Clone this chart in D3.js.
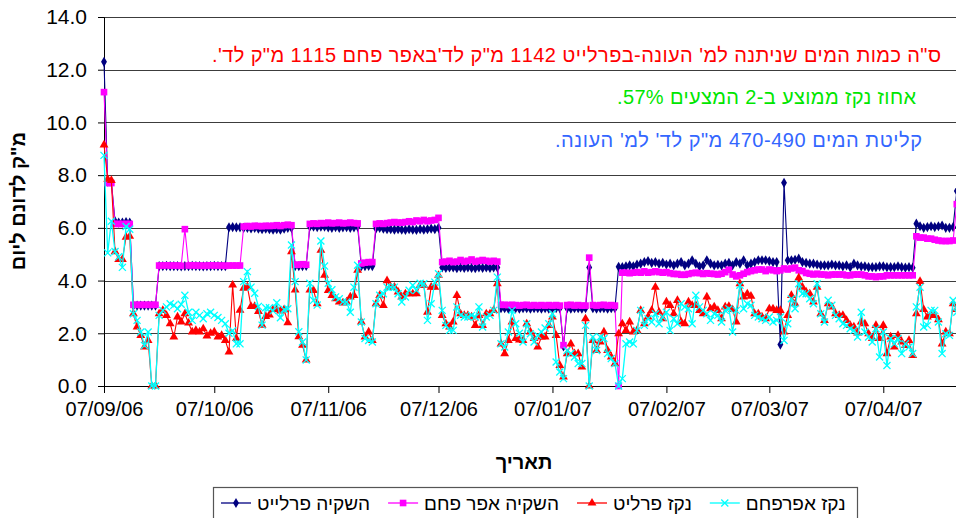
<!DOCTYPE html>
<html>
<head>
<meta charset="utf-8">
<script src="https://cdn.jsdelivr.net/npm/d3@7"></script>
<style>
  body { margin: 0; background: #fff; }
  svg { display: block; font-family: "Liberation Sans", Arial, sans-serif; }
</style>
</head>
<body>
<svg id="chart" width="956" height="518"></svg>
<script>
// data - one value per day starting 07/09/06
const startDay = new Date(Date.UTC(2006, 8, 7))

const irrigPerlite = [
  12.3, 7.75, 7.75, 6.25, 6.2, 6.2, 6.22, 6.2, 3.05, 3.05,
  3.05, 3.05, 3.05, 3.05, 3.05, 4.55, 4.55, 4.56, 4.55, 4.55,
  4.55, 4.54, 4.55, 4.55, 4.56, 4.55, 4.55, 4.54, 4.55, 4.55,
  4.56, 4.55, 4.55, 4.55, 6.02, 6.03, 6.02, 6.02, 6.0, 6.0,
  5.98, 6.0, 5.97, 5.95, 5.97, 5.95, 5.93, 5.95, 5.93, 5.97,
  6.0, 6.0, 4.55, 4.55, 4.55, 4.56, 6.05, 6.05, 6.03, 6.05,
  6.05, 6.02, 6.0, 6.03, 6.0, 6.02, 6.03, 6.0, 6.02, 6.05,
  4.55, 4.55, 4.56, 4.55, 5.98, 6.0, 5.97, 5.95, 5.95, 5.93,
  5.95, 5.93, 5.92, 5.95, 5.93, 5.92, 5.95, 5.93, 5.95, 5.97,
  5.95, 6.0, 4.5, 4.48, 4.5, 4.5, 4.47, 4.5, 4.48, 4.5,
  4.48, 4.47, 4.5, 4.48, 4.5, 4.48, 4.5, 4.5, 2.95, 2.95,
  2.93, 2.95, 2.95, 2.93, 2.95, 2.95, 2.93, 2.95, 2.95, 2.93,
  2.95, 2.93, 2.95, 2.95, 2.95, 1.5, 2.95, 2.93, 2.95, 2.95,
  2.93, 2.95, 4.5, 2.95, 2.93, 2.95, 2.95, 2.93, 2.95, 2.95,
  4.52, 4.51, 4.54, 4.58, 4.54, 4.61, 4.64, 4.7, 4.74, 4.67,
  4.7, 4.64, 4.67, 4.61, 4.64, 4.58, 4.64, 4.7, 4.58, 4.64,
  4.77, 4.64, 4.54, 4.58, 4.77, 4.64, 4.58, 4.6, 4.58, 4.64,
  4.67, 4.58, 4.7, 4.64, 4.77, 4.58, 4.64, 4.7, 4.77, 4.77,
  4.77, 4.74, 4.7, 4.7, 1.57, 7.71, 4.77, 4.77, 4.79, 4.83,
  4.7, 4.67, 4.64, 4.64, 4.61, 4.58, 4.58, 4.58, 4.61, 4.58,
  4.58, 4.54, 4.58, 4.51, 4.64, 4.58, 4.54, 4.54, 4.51, 4.51,
  4.51, 4.54, 4.54, 4.51, 4.51, 4.51, 4.54, 4.51, 4.49, 4.51,
  4.49, 6.16, 6.06, 6.0, 6.03, 6.06, 6.03, 6.06, 6.09, 6.0,
  6.0, 6.03, 7.4
]

const irrigAsh = [
  11.15, 7.7, 7.7, 6.15, 6.15, 6.15, 6.15, 6.15, 3.08, 3.08,
  3.08, 3.08, 3.08, 3.08, 3.08, 4.57, 4.57, 4.58, 4.57, 4.57,
  4.57, 4.56, 5.95, 4.57, 4.58, 4.57, 4.57, 4.56, 4.57, 4.58,
  4.57, 4.57, 4.57, 4.56, 4.57, 4.57, 4.57, 4.57, 6.05, 6.07,
  6.05, 6.08, 6.07, 6.06, 6.08, 6.07, 6.08, 6.1, 6.07, 6.1,
  6.12, 6.1, 4.6, 4.6, 4.62, 4.6, 6.15, 6.17, 6.15, 6.18,
  6.17, 6.2, 6.17, 6.18, 6.2, 6.17, 6.18, 6.2, 6.18, 6.17,
  4.65, 4.68, 4.7, 4.7, 6.15, 6.17, 6.15, 6.18, 6.2, 6.22,
  6.2, 6.2, 6.22, 6.25, 6.22, 6.28, 6.25, 6.3, 6.25, 6.28,
  6.3, 6.38, 4.7, 4.72, 4.75, 4.7, 4.72, 4.78, 4.72, 4.75,
  4.8, 4.72, 4.75, 4.78, 4.75, 4.72, 4.75, 4.72, 3.08, 3.08,
  3.07, 3.08, 3.07, 3.05, 3.07, 3.08, 3.05, 3.07, 3.05, 3.07,
  3.05, 3.07, 3.05, 3.07, 3.05, 1.55, 3.07, 3.08, 3.05, 3.07,
  3.05, 3.05, 4.87, 3.07, 3.05, 3.07, 3.08, 3.05, 3.07, 3.05,
  0, 4.3, 4.3, 4.28, 4.3, 4.32, 4.3, 4.35, 4.3, 4.32,
  4.35, 4.32, 4.3, 4.32, 4.28, 4.25, 4.25, 4.22, 4.22, 4.25,
  4.28, 4.3, 4.28, 4.25, 4.28, 4.26, 4.25, 4.23, 4.26, 4.32,
  4.41, 4.23, 4.16, 4.2, 4.26, 4.32, 4.36, 4.39, 4.42, 4.42,
  4.36, 4.42, 4.39, 4.36, 4.39, 4.46, 4.42, 4.46, 4.49, 4.39,
  4.36, 4.29, 4.26, 4.23, 4.26, 4.23, 4.23, 4.2, 4.23, 4.23,
  4.23, 4.23, 4.2, 4.2, 4.23, 4.23, 4.23, 4.2, 4.16, 4.16,
  4.13, 4.16, 4.16, 4.2, 4.2, 4.2, 4.2, 4.2, 4.2, 4.2,
  4.2, 5.68, 5.63, 5.63, 5.59, 5.59, 5.55, 5.52, 5.5, 5.5,
  5.5, 5.52, 6.9
]

const drainPerlite = [
  9.15, 7.85, 7.8, 5.1, 4.8, 4.8, 5.65, 5.68, 2.74, 2.24,
  1.92, 1.48, 1.73, 0, 0, 2.74, 2.87, 2.68, 2.36, 1.86,
  2.62, 2.43, 2.74, 2.39, 2.05, 2.11, 2.05, 2.17, 1.9, 2.0,
  2.05, 1.86, 1.92, 1.73, 1.29, 3.83, 1.8, 2.88, 3.71, 3.77,
  3.02, 3.02, 2.83, 2.31, 2.64, 2.7, 2.9, 2.9, 2.85, 2.9,
  2.4, 5.1, 3.64, 1.87, 1.55, 0.99, 3.64, 3.63, 3.12, 5.15,
  4.2, 3.63, 3.44, 3.31, 3.19, 3.15, 3.19, 3.38, 3.44, 4.39,
  2.43, 1.86, 2.05, 1.73, 3.12, 3.44, 3.06, 4.0, 3.75, 3.75,
  3.57, 3.38, 3.5, 3.5, 3.5, 3.5, 3.82, 3.82, 2.8, 3.75,
  3.75, 4.2, 2.68, 2.36, 2.24, 2.43, 3.44, 2.74, 2.68, 2.68,
  2.62, 2.3, 2.68, 2.3, 2.74, 2.74, 2.87, 3.88, 1.6, 1.23,
  1.73, 2.43, 1.8, 1.75, 1.73, 2.36, 2.05, 1.8, 1.48, 1.86,
  1.86, 2.3, 2.62, 1.92, 0.78, 0.34, 1.23, 1.6, 1.23, 1.23,
  0.72, 2.55, 0, 1.73, 1.35, 1.67, 2.05, 1.35, 1.1, 0.85,
  1.98, 2.36, 2.11, 2.43, 2.05, 2.11, 2.87, 2.36, 2.62, 2.87,
  3.75, 2.8, 2.55, 3.19, 3.06, 2.74, 3.25, 2.43, 2.36, 3.19,
  3.06, 3.06, 2.87, 2.74, 3.38, 2.93, 3.0, 2.87, 2.55, 3.0,
  3.02, 2.9, 2.43, 3.88, 3.38, 3.5, 3.41, 2.74, 2.74, 2.62,
  2.55, 2.93, 2.93, 2.87, 2.87, 2.05, 2.68, 3.44, 3.12, 4.1,
  3.75, 3.57, 3.5, 3.19, 3.75, 2.74, 2.49, 3.12, 3.0, 2.74,
  2.68, 2.68, 2.49, 2.3, 2.24, 2.01, 2.43, 2.36, 1.98, 1.8,
  2.3, 1.8, 2.3, 1.23, 1.86, 1.48, 1.92, 1.67, 1.54, 1.73,
  1.16, 2.74, 3.97, 2.9, 2.62, 2.68, 2.68, 2.52, 1.6, 2.05,
  1.98, 3.12, 2.9
]

const drainAsh = [
  8.75, 5.05, 6.25, 5.1, 4.9, 4.5, 6.05, 5.95, 2.74, 2.49,
  2.05, 1.54, 2.05, 0, 0, 2.68, 2.87, 3.0, 3.12, 3.06,
  2.93, 3.1, 3.44, 2.8, 2.49, 2.8, 2.68, 2.55, 2.74, 2.8,
  2.68, 2.6, 2.49, 2.36, 2.0, 2.1, 1.6, 1.6, 3.96, 4.34,
  3.75, 3.52, 3.02, 2.31, 2.97, 2.97, 2.85, 3.16, 2.59, 2.9,
  2.93, 5.35, 3.96, 2.06, 1.67, 0.99, 3.9, 3.25, 3.07, 5.5,
  4.55, 3.9, 3.65, 3.38, 3.31, 3.19, 3.19, 2.8, 3.75, 4.58,
  2.43, 1.8, 1.73, 1.67, 3.12, 3.44, 3.5, 3.75, 3.75, 3.75,
  3.5, 3.19, 3.38, 3.63, 3.82, 3.63, 3.9, 3.88, 2.49, 3.12,
  3.94, 4.26, 2.87, 2.3, 2.11, 2.11, 3.0, 2.68, 2.62, 2.62,
  2.68, 2.62, 3.0, 2.24, 2.62, 2.68, 2.87, 4.13, 1.6, 1.48,
  2.05, 2.87, 2.36, 2.0, 1.67, 2.36, 1.98, 1.67, 1.92, 2.05,
  2.2, 2.36, 2.74, 0.91, 0.53, 0.28, 1.35, 1.23, 1.1, 0.85,
  0.85, 2.3, 0, 1.86, 1.35, 1.86, 1.8, 1.23, 1.04, 0.85,
  0, 0.28, 1.6, 1.67, 1.6, 2.11, 2.87, 2.3, 2.55, 2.43,
  2.74, 2.36, 2.62, 2.8, 2.11, 2.55, 2.36, 3.12, 3.0, 2.93,
  2.36, 3.44, 3.0, 2.87, 2.74, 2.49, 2.74, 2.68, 2.43, 2.87,
  2.93, 2.05, 2.87, 3.82, 2.93, 3.12, 3.06, 2.68, 2.62, 2.55,
  2.49, 2.62, 2.43, 2.49, 2.62, 1.73, 2.36, 3.31, 2.93, 3.88,
  3.5, 3.5, 3.31, 3.12, 3.88, 2.74, 2.43, 3.25, 3.06, 2.68,
  2.55, 2.36, 2.3, 2.17, 2.11, 1.86, 2.8, 2.05, 1.86, 1.67,
  2.17, 1.1, 2.05, 0.78, 1.8, 1.6, 1.8, 1.23, 1.6, 1.48,
  1.23, 3.0, 3.75, 2.24, 2.3, 2.87, 2.87, 2.43, 1.23, 1.98,
  1.92, 3.25, 2.8
]

const seriesNames = ["השקיה פרלייט", "השקיה אפר פחם", "נקז פרליט", "נקז אפרפחם"]
const seriesColors = ["#000080", "#ff00ff", "#ff0000", "#00ffff"]

const tickDates = ["2006-09-07", "2006-10-07", "2006-11-07", "2006-12-07",
                   "2007-01-07", "2007-02-07", "2007-03-07", "2007-04-07"]
const yTicks = [0, 2, 4, 6, 8, 10, 12, 14]

const notes = [
  { text: "ס\"ה כמות המים שניתנה למ' העונה-בפרלייט 1142 מ\"ק לד'באפר פחם 1115 מ\"ק לד'.", color: "#ff0000" },
  { text: "אחוז נקז ממוצע ב-2 המצעים 57%.", color: "#00e600" },
  { text: "קליטת המים 470-490 מ\"ק לד' למ' העונה.", color: "#3366ff" }
]
const yTitle = "מ\"ק לדונם ליום"
const xTitle = "תאריך"

// layout
const plotLeft = 104, plotRight = 956.8, plotTop = 17, plotBottom = 386

const svg = d3.select("#chart")

const x = d3.scaleUtc()
    .domain([startDay, d3.utcDay.offset(startDay, 232)])
    .range([plotLeft, plotRight])
const y = d3.scaleLinear().domain([0, 14]).range([plotBottom, plotTop])

const days = irrigPerlite.map((v, i) => d3.utcDay.offset(startDay, i))
const parse = d3.utcParse("%Y-%m-%d")
const fmt = d3.utcFormat("%d/%m/%y")

// gridlines
svg.append("g")
    .selectAll("line")
    .data(yTicks.filter(t => t > 0))
    .join("line")
    .attr("x1", plotLeft).attr("x2", 956)
    .attr("y1", d => Math.round(y(d)) + 0.5).attr("y2", d => Math.round(y(d)) + 0.5)
    .attr("stroke", "#3c3c3c")
    .attr("stroke-width", 1)

// y axis
const yAxis = svg.append("g")
    .attr("transform", `translate(${plotLeft},0)`)
    .call(d3.axisLeft(y).tickValues(yTicks).tickFormat(d3.format(".1f")).tickSize(6).tickPadding(11))
yAxis.select(".domain").attr("stroke", "#000")
yAxis.selectAll("text").attr("font-size", 21).attr("fill", "#000")
    .attr("font-family", "'Liberation Sans', Arial, sans-serif")

// x axis
const xAxis = svg.append("g")
    .attr("transform", `translate(0,${plotBottom})`)
    .call(d3.axisBottom(x).tickValues(tickDates.map(parse)).tickFormat(fmt).tickSize(7).tickPadding(9).tickSizeOuter(0))
xAxis.select(".domain").attr("stroke", "#000")
xAxis.selectAll("text").attr("font-size", 20).attr("fill", "#000")
    .attr("font-family", "'Liberation Sans', Arial, sans-serif")

// series
const allSeries = [irrigPerlite, irrigAsh, drainPerlite, drainAsh]
const symbols = [
  d3.symbol().type(d3.symbolDiamond).size(30),
  d3.symbol().type(d3.symbolSquare).size(44),
  d3.symbol().type(d3.symbolTriangle).size(34),
  d3.symbol().type(d3.symbolX).size(34)
]

const line = d3.line()
    .x((d, i) => x(days[i]))
    .y(d => y(d))

const plot = svg.append("g")

allSeries.forEach(function (vals, s) {
    const g = plot.append("g")
    g.append("path")
        .attr("d", line(vals))
        .attr("fill", "none")
        .attr("stroke", seriesColors[s])
        .attr("stroke-width", s == 3 ? 1.3 : 1.1)

    g.selectAll("path.m")
        .data(vals)
        .join("path")
        .attr("class", "m")
        .attr("transform", (d, i) => `translate(${x(days[i])},${y(d)})`)
        .attr("d", symbols[s])
        .attr("fill", s == 3 ? "none" : seriesColors[s])
        .attr("stroke", s == 3 ? seriesColors[s] : "none")
        .attr("stroke-width", 1.3)
})

// notes (text stretched to the width they take in the original)
const noteRight = [941, 916, 922]
const noteBase = [62, 104, 147]
const noteWidth = [729, 299, 367]
svg.append("g")
    .selectAll("text")
    .data(notes)
    .join("text")
    .attr("x", (d, i) => noteRight[i])
    .attr("y", (d, i) => noteBase[i])
    .attr("direction", "rtl")
    .attr("text-anchor", "start")
    .attr("font-size", 20)
    .attr("textLength", (d, i) => noteWidth[i])
    .attr("lengthAdjust", "spacing")
    .attr("fill", d => d.color)
    .text(d => d.text)

// axis titles
svg.append("text")
    .attr("transform", "translate(25,201) rotate(-90)")
    .attr("text-anchor", "middle")
    .attr("direction", "rtl")
    .attr("font-size", 20)
    .attr("font-weight", "bold")
    .text(yTitle)

svg.append("text")
    .attr("x", 524).attr("y", 469)
    .attr("text-anchor", "middle")
    .attr("font-size", 20)
    .attr("font-weight", "bold")
    .text(xTitle)

// legend
const leg = svg.append("g")
leg.append("rect")
    .attr("x", 213.5).attr("y", 487.5)
    .attr("width", 644).attr("height", 40)
    .attr("fill", "#fff")
    .attr("stroke", "#555")
    .attr("stroke-width", 1.2)

let lx = 221
seriesNames.forEach(function (name, s) {
    const ly = 503
    leg.append("line")
        .attr("x1", lx).attr("x2", lx + 30)
        .attr("y1", ly).attr("y2", ly)
        .attr("stroke", seriesColors[s]).attr("stroke-width", 1.3)
    leg.append("path")
        .attr("transform", `translate(${lx + 15},${ly})`)
        .attr("d", symbols[s])
        .attr("fill", s == 3 ? "none" : seriesColors[s])
        .attr("stroke", s == 3 ? seriesColors[s] : "none")
        .attr("stroke-width", 1.3)
    const t = leg.append("text")
        .attr("x", lx + 36).attr("y", ly + 7)
        .attr("font-size", 19)
        .text(name)
    lx += 36 + t.node().getComputedTextLength() + 18
})
</script>
</body>
</html>
